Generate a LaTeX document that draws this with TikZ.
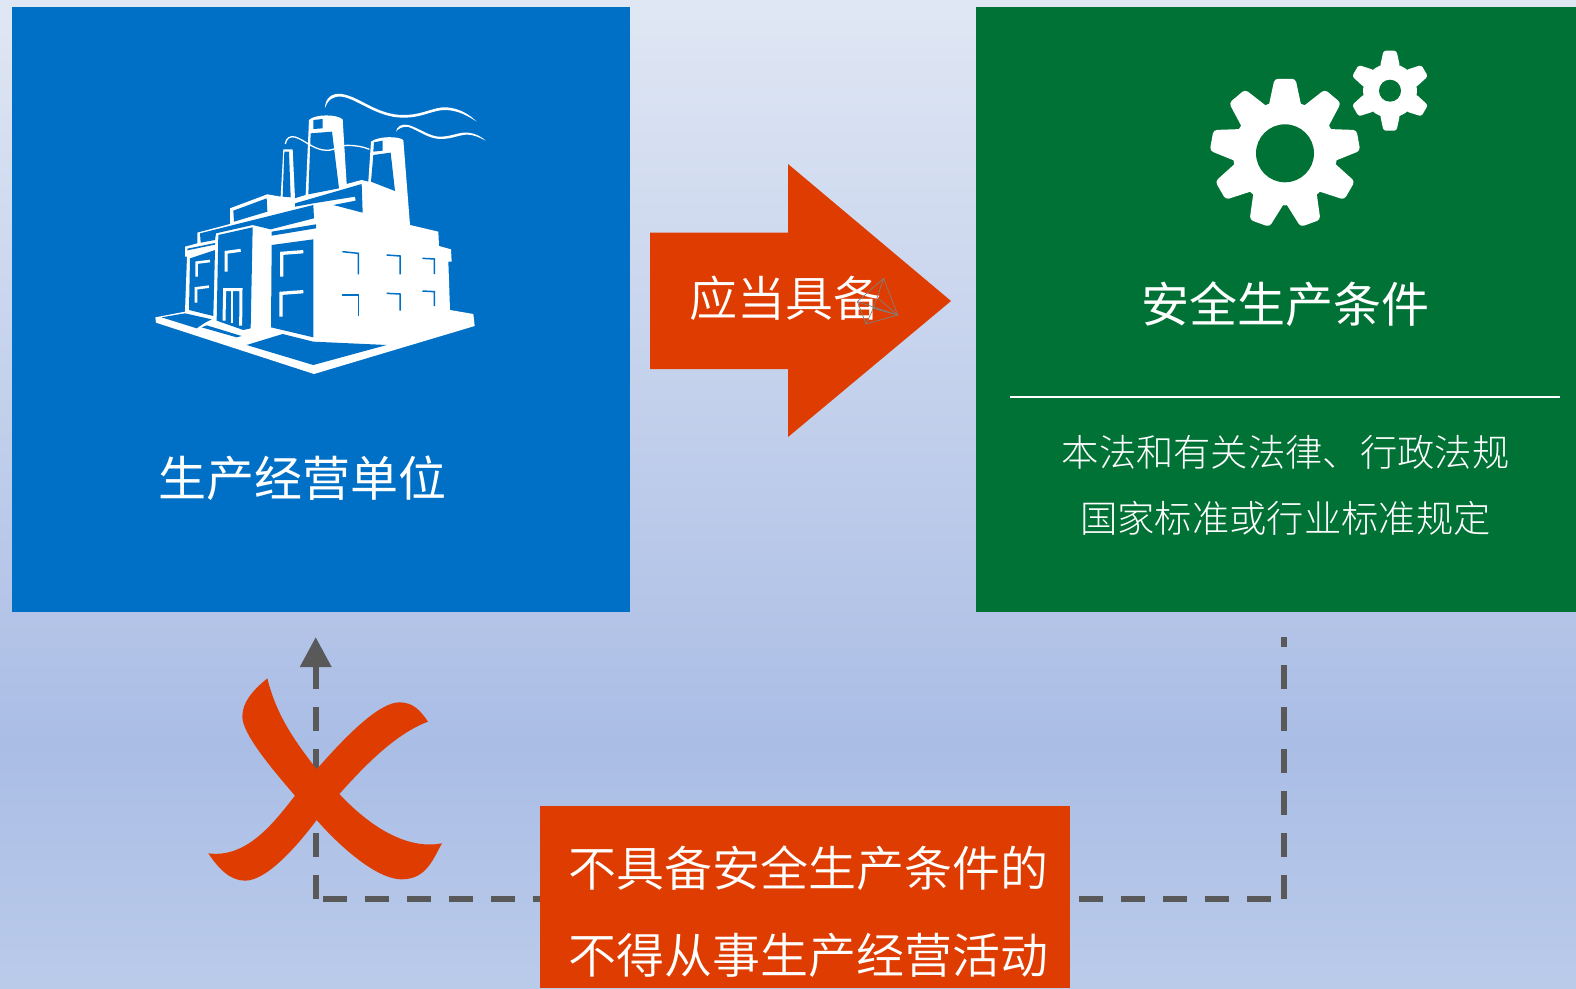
\documentclass[tikz,border=0pt]{standalone}
\usepackage{fontspec}
\newfontfamily\cjk{Noto Sans CJK SC Light}
\newfontfamily\cjkmid{Noto Sans CJK SC DemiLight}
\newfontfamily\cjkhead{Noto Sans CJK SC}
\usetikzlibrary{arrows.meta}
\definecolor{boxblue}{HTML}{0070C6}
\definecolor{boxgreen}{HTML}{007236}
\definecolor{signred}{HTML}{DE3C00}
\definecolor{dashgray}{HTML}{595959}
\definecolor{bgtop}{HTML}{E0E7F4}
\definecolor{bgmid}{HTML}{AABDE5}
\definecolor{bgbot}{HTML}{BACBEA}
\tikzset{
  panel/.style={inner sep=0pt,outer sep=0pt,anchor=north west},
  cjklabel/.style={inner sep=0pt,outer sep=0pt,text=white,font=\cjk\fontsize{#1}{#1}\selectfont,text height=.88*#1,text depth=.12*#1,anchor=center},
  midlabel/.style={cjklabel=#1,font=\cjkmid\fontsize{#1}{#1}\selectfont},
  headlabel/.style={cjklabel=#1,font=\cjkhead\fontsize{#1}{#1}\selectfont},
  dashline/.style={draw=dashgray,line width=6.4pt,dash pattern=on 24pt off 18pt},
  mesh/.style={draw=gray,line width=.7pt},
  winstroke/.style={draw=boxblue,line width=1.5pt,miter limit=10},
  lstroke/.style={draw=white,line width=#1},
}
\begin{document}
\begin{tikzpicture}[x=1pt,y=-1pt]
\useasboundingbox (0,0) rectangle (1576,988);
% background
\fill[top color=bgtop,bottom color=bgmid] (0,0) rectangle (1576,745);
\fill[top color=bgmid,bottom color=bgbot] (0,744) rectangle (1576,988);
% panels
\node[panel,fill=boxblue,minimum width=618pt,minimum height=605pt] (unit) at (12,7) {};
\node[panel,fill=boxgreen,minimum width=600pt,minimum height=605pt] (cond) at (976,7) {};
% factory
\begin{scope}[shift={(140,80)},xscale=.33333,yscale=.33333]
\fill[white] (46,712)--(48,728)--(522,882)--(1004,738)--(1000,702)--(930,690)--(925,545)--(935,545)--(933,508)--(897,498)--(895,455)--(810,435)--(790,180)
  .. controls (775,168) and (715,168) .. (693,185) --(685,305)--(665,300)--(620,312)--(608,118)
  .. controls (590,102) and (525,102) .. (507,120) --(497,345)--(465,355)--(458,208)--(430,208)--(422,350)--(382,343)--(270,385)--(270,432)--(172,458)--(172,490)--(135,500)--(135,530)--(141,530)--(135,695)--cycle;
\fill[boxblue] (512,160)--(576,155)--(597,325)--(505,343)--cycle;
\fill[boxblue] (520,120)--(548,117)--(548,145)--(520,147)--cycle;
\fill[boxblue] (700,225)--(752,218)--(765,333)--(693,305)--cycle;
\fill[boxblue] (702,187)--(728,182)--(728,212)--(700,215)--cycle;
\fill[boxblue] (433,215)--(447,215)--(452,352)--(428,350)--cycle;
\fill[boxblue] (280,392)--(380,355)--(382,395)--(282,425)--cycle;
\fill[boxblue] (465,370)--(665,312)--(668,398)--(580,375)--(647,362)--(645,350)--(520,370)--(465,380)--cycle;
\fill[boxblue] (180,460)--(520,375)--(522,415)--(392,448)--(338,435)--(228,460)--(225,480)--(182,488)--cycle;
\fill[boxblue] (395,455)--(528,433)--(528,445)--(395,467)--cycle;
\fill[boxblue] (142,506)--(225,489)--(225,494)--(142,511)--cycle;
\fill[boxblue] (150,535)--(225,510)--(220,708)--(147,690)--cycle;
\fill[boxblue] (235,465)--(338,442)--(332,745)--(310,750)--(230,722)--cycle;
\fill[boxblue] (395,495)--(520,478)--(520,772)--(393,742)--cycle;
\draw[lstroke=2.6pt] (170,590)--(170,548)--(210,543);
\draw[lstroke=2.6pt] (168,668)--(168,625)--(207,620);
\draw[lstroke=3pt] (258,575)--(258,517)--(302,511);
\draw[lstroke=3pt] (252,722)--(254,629)--(303,629)--(302,737);
\draw[lstroke=2.5pt] (276,629)--(276,728);
\draw[lstroke=3.3pt] (425,590)--(425,520)--(490,515);
\draw[lstroke=3.3pt] (423,710)--(423,640)--(490,635);
\draw[winstroke] (607,515)--(655,520)--(655,583);
\draw[winstroke] (740,525)--(780,528)--(780,583);
\draw[winstroke] (847,535)--(883,537)--(883,582);
\draw[winstroke] (607,645)--(655,645)--(655,708);
\draw[winstroke] (740,640)--(780,642)--(780,692);
\draw[winstroke] (847,633)--(883,635)--(883,678);
\fill[boxblue] (320,795)--(428,762)--(520,785)--(740,795)--(520,855)--cycle;
\fill[boxblue] (65,712)--(135,700)--(215,718)--(195,728)--(170,745)--cycle;
\fill[boxblue] (185,742)--(200,736)--(305,768)--(290,772)--cycle;
% smoke
\fill[white] (555,85) .. controls (555,55) and (575,38) .. (605,42) .. controls (660,50) and (710,105) .. (790,105) .. controls (850,105) and (880,80) .. (920,82) .. controls (960,85) and (990,105) .. (1010,125) .. controls (985,108) and (955,92) .. (920,90) .. controls (880,88) and (850,113) .. (790,113) .. controls (710,113) and (650,55) .. (605,50) .. controls (580,47) and (562,60) .. (555,85) -- cycle;
\fill[white] (768,155) .. controls (770,140) and (785,130) .. (805,135) .. controls (840,145) and (870,172) .. (905,170) .. controls (940,168) and (960,155) .. (985,158) .. controls (1005,160) and (1025,170) .. (1037,182) .. controls (1015,170) and (1000,165) .. (985,164) .. controls (960,163) and (940,176) .. (905,177) .. controls (865,178) and (835,150) .. (805,141) .. controls (790,138) and (775,145) .. (768,155) -- cycle;
\draw[white,line width=1.3pt] (436,192) .. controls (438,175) and (450,167) .. (465,171) .. controls (495,180) and (520,210) .. (560,211) .. controls (585,211) and (600,195) .. (625,196) .. controls (650,197) and (670,200) .. (688,208);
\end{scope}
% gears
\begin{scope}[shift={(1285,153.3)}]
\fill[white] (0,0) circle (52);
\foreach \a in {0,40,...,320}{
  \fill[white,rounded corners=3.5pt,rotate=\a] (-17,-44)--(-10.5,-74.5)--(10.5,-74.5)--(17,-44)--cycle;
}
\fill[boxgreen] (0,0) circle (29);
\end{scope}
\begin{scope}[shift={(1390,90.7)}]
\fill[white] (0,0) circle (27);
\foreach \a in {0,60,...,300}{
  \fill[white,rounded corners=2.5pt,rotate=\a] (-10,-24)--(-6.5,-40)--(6.5,-40)--(10,-24)--cycle;
}
\fill[boxgreen] (0,0) circle (11);
\end{scope}
% panel text
\node[headlabel=48pt] (unitlabel) at (302,478) {生产经营单位};
\node[headlabel=48pt] (condlabel) at (1285,304) {安全生产条件};
\coordinate (ruleL) at (1010,397);
\coordinate (ruleR) at (1560,397);
\draw[white,line width=1.6pt] (ruleL) -- (ruleR);
\node[cjklabel=37.3pt] (lawone) at (1285.5,452) {本法和有关法律、行政法规};
\node[cjklabel=37.3pt] (lawtwo) at (1285.5,518) {国家标准或行业标准规定};
% big arrow
\fill[signred] (650,232.5)--(788,232.5)--(788,164)--(951,301)--(788,437)--(788,369)--(650,369)--cycle;
\node[midlabel=48pt] (must) at (785,298) {应当具备};
\begin{scope}[shift={(640,160)},xscale=.33333,yscale=.33333]
\draw[mesh] (731,355)--(773,465)--(678,492)--(652,425)--(731,355)--(700,445)--(773,465)--(652,425);
\draw[mesh] (700,445)--(678,492);
\draw[mesh] (718,418)--(773,465);
\end{scope}
% connectors
\node[panel,fill=signred,minimum width=530pt,minimum height=182pt] (deny) at (540,806) {};
\coordinate (cornerL) at (315.7,899);
\coordinate (cornerR) at (1283.7,899);
\coordinate (tipL) at (315.7,637);
\coordinate (endR) at (1283.7,637);
\coordinate (startL) at (323,899);
\coordinate (startR) at (1079,899);
\coordinate (stopR) at (1272,899);
\draw[dashline,-{Triangle[length=30pt,width=30pt,fill=dashgray]}] (cornerL) -- (tipL);
\draw[dashline] (startL) -- (deny.west |- startL);
\draw[dashline] (startR) -- (stopR);
\draw[dashline] (cornerR) -- (endR);
% cross
\begin{scope}[shift={(190,620)},xscale=.33333,yscale=.33333]
\fill[signred] (232,175) .. controls (260,290) and (320,370) .. (380,448) .. controls (470,345) and (570,245) .. (630,247) .. controls (670,248) and (690,270) .. (714,305) .. controls (620,340) and (530,430) .. (448,522) .. controls (540,620) and (650,690) .. (756,670) .. controls (730,715) and (710,778) .. (635,778) .. controls (560,778) and (450,680) .. (380,600) .. controls (320,680) and (230,782) .. (165,782) .. controls (120,782) and (85,745) .. (55,700) .. controls (170,715) and (250,610) .. (315,527) .. controls (240,440) and (157,340) .. (157,290) .. controls (157,245) and (190,210) .. (232,175) -- cycle;
\end{scope}
% deny text
\node[panel,fill=signred,minimum width=530pt,minimum height=182pt] (denyback) at (540,806) {};
\node[midlabel=48pt] (denyone) at (808,868) {不具备安全生产条件的};
\node[midlabel=48pt] (denytwo) at (808,955) {不得从事生产经营活动};
\end{tikzpicture}
\end{document}
